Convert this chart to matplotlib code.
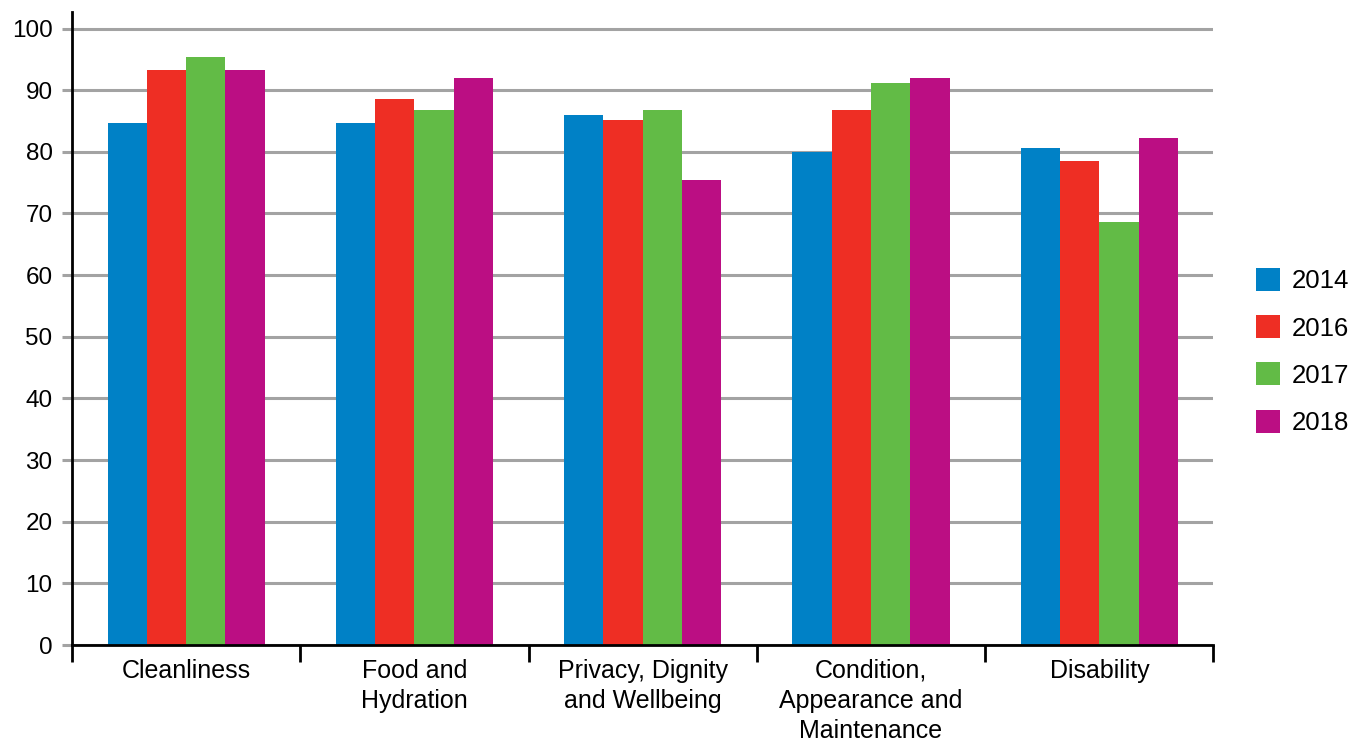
import matplotlib
matplotlib.use('Agg')
import matplotlib.pyplot as plt
import numpy as np

plt.rcParams['font.family'] = ['Liberation Sans', 'DejaVu Sans']

# 数据
categories = ['Cleanliness', 'Food and\nHydration', 'Privacy, Dignity\nand Wellbeing',
              'Condition,\nAppearance and\nMaintenance', 'Disability']
years = ['2014', '2016', '2017', '2018']
v2014 = [84.7, 84.7, 86.0, 80.0, 80.6]
v2016 = [93.2, 88.5, 85.1, 86.8, 78.5]
v2017 = [95.4, 86.8, 86.8, 91.1, 68.6]
v2018 = [93.2, 92.0, 75.4, 92.0, 82.2]
colors = ['#0081C6', '#EE2E24', '#62BB46', '#BB0E83']

fig = plt.figure(figsize=(13.54, 7.44), dpi=100)
ax = fig.add_axes([0.0532, 0.133, 0.843, 0.851])

x = np.arange(len(categories))
w = 0.172
series = [v2014, v2016, v2017, v2018]
for i, (vals, c, lab) in enumerate(zip(series, colors, years)):
    ax.bar(x + (i - 1.5) * w, vals, w, color=c, label=lab, zorder=3)

ax.set_xlim(-0.5, len(categories) - 0.5)
ax.set_ylim(0, 102.7)
ax.set_yticks(np.arange(0, 101, 10))
ax.yaxis.grid(True, color='#a3a3a3', linewidth=2.2, zorder=0)
ax.tick_params(axis='y', length=7, width=2.2, color='#a3a3a3', labelsize=17.5, pad=7)

# 类别刻度在分隔处
ax.set_xticks(np.arange(-0.5, len(categories), 1.0))
ax.set_xticklabels([])
ax.set_xticks(x, minor=True)
ax.set_xticklabels(categories, minor=True, fontsize=18, linespacing=1.32)
ax.tick_params(axis='x', which='major', length=12, width=2, direction='out')
ax.tick_params(axis='x', which='minor', length=0, pad=10)

for s in ['top', 'right']:
    ax.spines[s].set_visible(False)
ax.spines['left'].set_linewidth(2)
ax.spines['bottom'].set_linewidth(2)
ax.spines['bottom'].set_zorder(4)

ax.legend(loc='center left', bbox_to_anchor=(1.028, 0.4637), frameon=False, fontsize=18.5,
          handlelength=0.95, handleheight=1.0, handletextpad=0.45, labelspacing=0.85,
          borderaxespad=0)

plt.savefig('out.png', dpi=100)
